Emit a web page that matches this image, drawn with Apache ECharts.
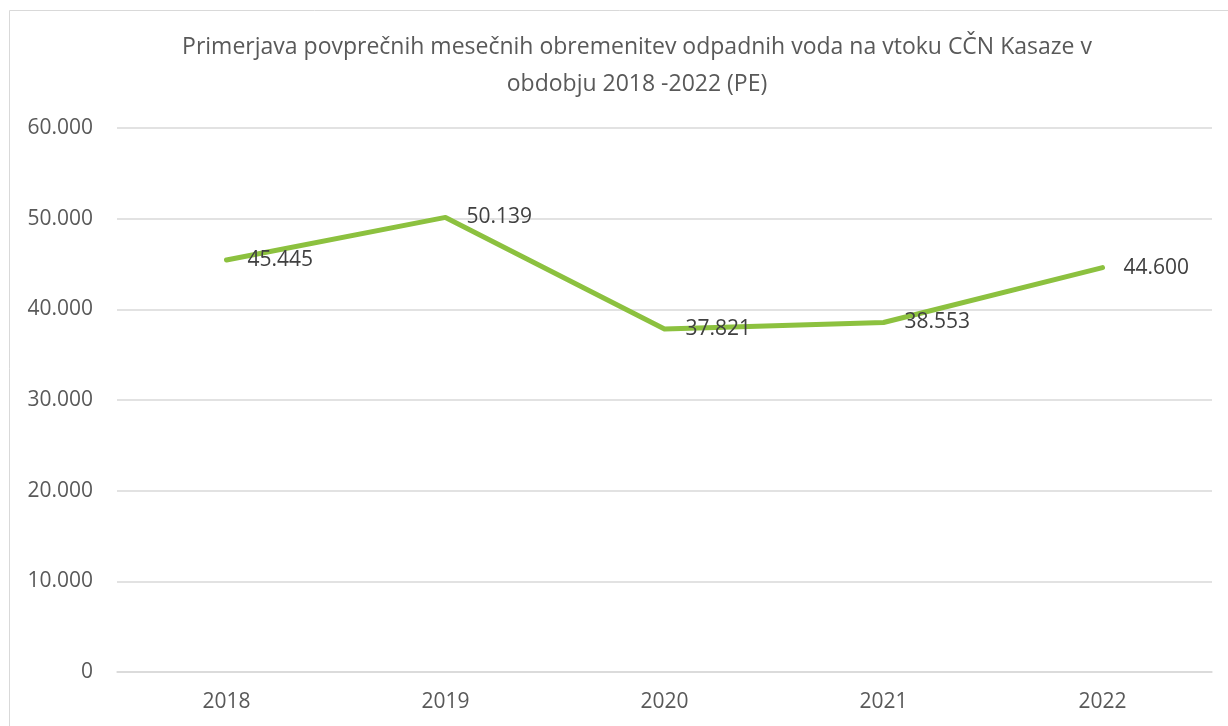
<!DOCTYPE html>
<html>
<head>
<meta charset="utf-8">
<script src="https://cdn.jsdelivr.net/npm/echarts@6/dist/echarts.min.js"></script>
<style>
  body { margin: 0; background: #fff; }
  #chart { width: 1228px; height: 726px; }
</style>
</head>
<body>
<div id="chart"></div>
<script>
// data
const years = ['2018', '2019', '2020', '2021', '2022'];
const loadPE = [45445, 50139, 37821, 38553, 44600];
const yTicks = [0, 10000, 20000, 30000, 40000, 50000, 60000];

const fmt = (v) => v === 0 ? '0' : String(v).replace(/\B(?=(\d{3})+(?!\d))/g, '.');

var myChart = echarts.init(document.getElementById('chart'));
var option = {
    animation: false,
    textStyle: { fontFamily: 'Open Sans' },
    title: {
        text: 'Primerjava povprečnih mesečnih obremenitev odpadnih voda na vtoku CČN Kasaze v\nobdobju 2018 -2022 (PE)',
        left: 632,
        top: 24,
        textAlign: 'center',
        textStyle: {
            fontFamily: 'Open Sans',
            fontSize: 23,
            fontWeight: 'normal',
            color: '#595959',
            lineHeight: 37
        }
    },
    graphic: [{
        type: 'rect',
        shape: { x: 9.5, y: 10.5, width: 1240, height: 740 },
        style: { fill: 'none', stroke: '#d9d9d9', lineWidth: 1 },
        silent: true
    }],
    grid: { left: 117, right: 16, top: 128, bottom: 54 },
    xAxis: {
        type: 'category',
        data: years,
        boundaryGap: true,
        axisLine: { lineStyle: { color: '#d9d9d9', width: 1.5 } },
        axisTick: { show: false },
        axisLabel: { color: '#595959', fontSize: 21, margin: 20 }
    },
    yAxis: {
        type: 'value',
        min: yTicks[0],
        max: yTicks[yTicks.length - 1],
        interval: 10000,
        axisLine: { show: false },
        axisTick: { show: false },
        splitLine: { lineStyle: { color: '#d9d9d9', width: 1.5 } },
        axisLabel: { color: '#595959', fontSize: 21, margin: 24, formatter: fmt }
    },
    series: [{
        type: 'line',
        data: loadPE,
        symbol: 'circle',
        symbolSize: 2,
        showSymbol: true,
        itemStyle: { color: 'rgba(0,0,0,0)', borderWidth: 0 },
        lineStyle: { color: '#8cc13f', width: 5, cap: 'round', join: 'round' },
        label: {
            show: true,
            position: 'right',
            distance: 20,
            color: '#404040',
            fontSize: 21,
            fontFamily: 'Open Sans',
            offset: [0, 5],
            formatter: (p) => fmt(p.value)
        },
        labelLayout: { hideOverlap: false }
    }]
};
myChart.setOption(option);
</script>
</body>
</html>
